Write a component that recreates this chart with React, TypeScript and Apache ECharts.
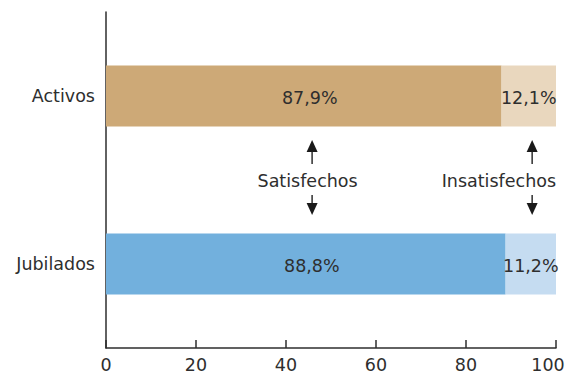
import React, { useEffect, useRef } from "react";
import * as echarts from "echarts";

const categories = ["Jubilados", "Activos"];
const satisfechos = [88.8, 87.9];
const insatisfechos = [11.2, 12.1];
const xTicks = [0, 20, 40, 60, 80, 100];
const satColors = ["#72B0DD", "#CDA977"];
const insColors = ["#C5DCF1", "#E9D7BE"];
const annotations = [
  { text: "Satisfechos", x: 44.8, arrowX: 45.8 },
  { text: "Insatisfechos", x: 87.3, arrowX: 94.7 },
];

const FONT = "DejaVu Sans";
const TEXT = "#2e2e2e";
const FS = 17.5;

export default function App() {
  const ref = useRef<HTMLDivElement>(null);
  useEffect(() => {
    if (!ref.current) return;
    const chart = echarts.init(ref.current, null, { renderer: "svg" });
    const fmt = (p: any) => p.value.toFixed(1).replace(".", ",") + "%";
    const lastTick = xTicks[xTicks.length - 1];
    chart.setOption({
      animation: false,
      grid: { left: 106, right: 9, top: 12, bottom: 26, outerBoundsMode: "none", containLabel: false },
      xAxis: {
        type: "value",
        min: 0,
        max: 100,
        interval: 20,
        axisLine: { show: true, lineStyle: { color: TEXT, width: 1.5 } },
        axisTick: { show: true, inside: true, length: 8, lineStyle: { color: TEXT, width: 1.5 } },
        splitLine: { show: false },
        axisLabel: {
          color: TEXT,
          fontFamily: FONT,
          fontSize: FS,
          lineHeight: 18,
          margin: 8,
          formatter: (v: number) => (!xTicks.includes(v) ? "" : v === lastTick ? `{m|${v}}` : String(v)),
          rich: {
            m: { color: TEXT, fontFamily: FONT, fontSize: FS, lineHeight: 18, padding: [0, 16, 0, 0] },
          },
        },
      },
      yAxis: {
        type: "category",
        data: categories,
        axisLine: { show: true, lineStyle: { color: TEXT, width: 1.5 } },
        axisTick: { show: false },
        axisLabel: { color: TEXT, fontFamily: FONT, fontSize: FS, margin: 11 },
      },
      series: [
        {
          type: "bar",
          stack: "t",
          barWidth: 61,
          data: satisfechos.map((v, i) => ({ value: v, itemStyle: { color: satColors[i] } })),
          label: { show: true, position: "inside", color: TEXT, fontFamily: FONT, fontSize: FS, formatter: fmt, offset: [6, 2] },
        },
        {
          type: "bar",
          stack: "t",
          barWidth: 61,
          data: insatisfechos.map((v, i) => ({ value: v, itemStyle: { color: insColors[i] } })),
          label: { show: true, position: "inside", color: TEXT, fontFamily: FONT, fontSize: FS, formatter: fmt, offset: [0, 2] },
        },
      ],
    });

    const top = chart.convertToPixel({ gridIndex: 0 }, [0, "Activos"]) as number[];
    const bot = chart.convertToPixel({ gridIndex: 0 }, [0, "Jubilados"]) as number[];
    const midY = (top[1] + bot[1]) / 2;
    const graphics: any[] = [];
    annotations.forEach((a) => {
      const tx = (chart.convertToPixel({ gridIndex: 0 }, [a.x, "Activos"]) as number[])[0];
      const ax = (chart.convertToPixel({ gridIndex: 0 }, [a.arrowX, "Activos"]) as number[])[0];
      graphics.push({
        type: "text",
        x: tx,
        y: midY + 1,
        style: { text: a.text, fill: TEXT, font: `${FS}px "${FONT}"`, align: "center", verticalAlign: "middle" },
      });
      graphics.push({ type: "line", shape: { x1: ax, y1: midY - 32, x2: ax, y2: midY - 16 }, style: { stroke: TEXT, lineWidth: 1.5 } });
      graphics.push({
        type: "polygon",
        shape: { points: [[ax - 5.5, midY - 28], [ax + 5.5, midY - 28], [ax, midY - 40]] },
        style: { fill: "#1a1a1a" },
      });
      graphics.push({ type: "line", shape: { x1: ax, y1: midY + 15, x2: ax, y2: midY + 26 }, style: { stroke: TEXT, lineWidth: 1.5 } });
      graphics.push({
        type: "polygon",
        shape: { points: [[ax - 5.5, midY + 23], [ax + 5.5, midY + 23], [ax, midY + 35]] },
        style: { fill: "#1a1a1a" },
      });
    });
    chart.setOption({ graphic: graphics });
    return () => chart.dispose();
  }, []);
  return <div ref={ref} style={{ width: 565, height: 374, position: "absolute", left: 0, top: 0, background: "#fff" }} />;
}
